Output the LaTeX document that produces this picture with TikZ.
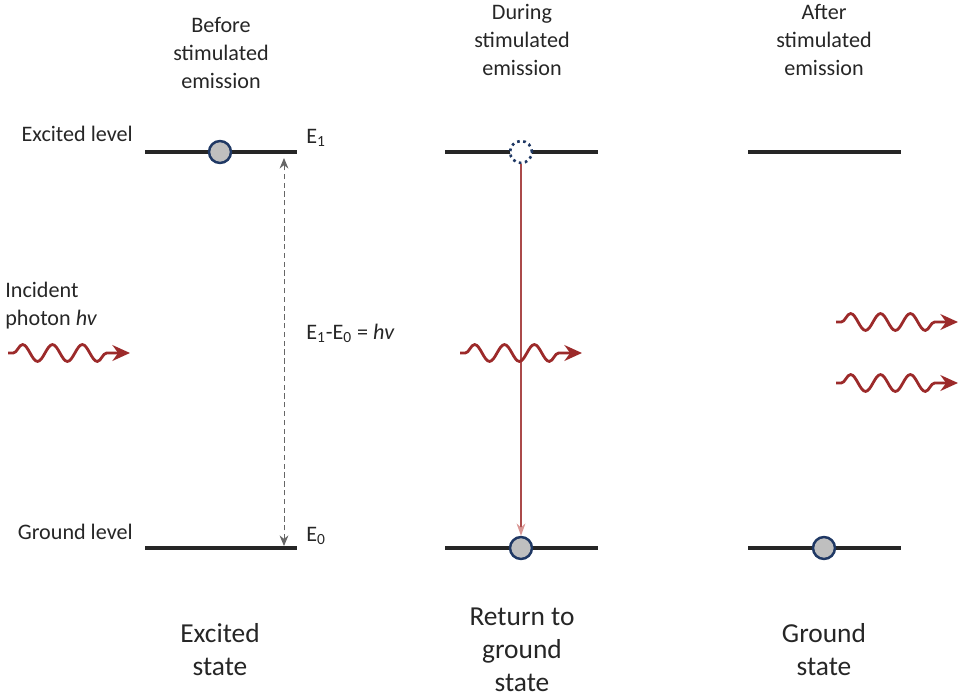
\documentclass[tikz,border=0pt]{standalone}
\usepackage{fontspec}
\setmainfont{Carlito}
\usetikzlibrary{arrows.meta,decorations.pathmorphing}

\definecolor{levelgray}{HTML}{262626}
\definecolor{dotnavy}{HTML}{1F3864}
\definecolor{dotfill}{HTML}{BFBFBF}
\definecolor{photonred}{HTML}{9C2A2A}
\definecolor{droppink}{HTML}{D99694}

\tikzset{
    level/.style={line width=2pt, levelgray},
    electron/.style={circle, draw=dotnavy, fill=dotfill, line width=1.4pt, minimum size=12.5pt, inner sep=0pt},
    hole/.style={circle, draw=dotnavy, fill=white, dotted, line width=1.5pt, minimum size=12.5pt, inner sep=0pt},
    photon/.style={photonred, line width=1.6pt, decorate,
        decoration={snake, amplitude=4.8pt, segment length=17pt, pre length=3pt, post length=11pt},
        -{Stealth[length=10pt, width=9pt]}},
    lbl/.style={text=levelgray, font=\fontsize{12.6}{15.9}\selectfont, inner sep=0pt},
    state/.style={text=levelgray, font=\fontsize{15.6}{18.8}\selectfont, align=center, inner sep=0pt}
}

\begin{document}
\begin{tikzpicture}[x=0.02cm, y=-0.02cm]
    \useasboundingbox (0,0) rectangle (958,697);

    % column headings
    \node[lbl, align=center] (head1) at (221,53) {Before\\stimulated\\emission};
    \node[lbl, align=center] (head2) at (522,40) {During\\stimulated\\emission};
    \node[lbl, align=center] (head3) at (824,40) {After\\stimulated\\emission};

    % energy levels
    \draw[level] (145,152) coordinate (ex1a) -- (297,152) coordinate (ex1b);
    \draw[level] (145,548) coordinate (gr1a) -- (297,548) coordinate (gr1b);
    \draw[level] (445,152) -- (598,152);
    \draw[level] (445,548) -- (598,548);
    \draw[level] (748,152) -- (901,152);
    \draw[level] (748,548) -- (901,548);

    \node[lbl, anchor=east] (exlabel) at (133,134) {Excited level};
    \node[lbl, anchor=east] (grlabel) at (133,532) {Ground level};
    \node[lbl, anchor=west] (e1) at (306,138) {E\textsubscript{1}};
    \node[lbl, anchor=west] (e0) at (306,536) {E\textsubscript{0}};

    % electrons
    \node[electron] (el1) at (220,152) {};
    \node[hole] (hole2) at (521,152) {};
    \node[electron] (el2) at (521,548) {};
    \node[electron] (el3) at (824,548) {};

    % energy gap
    \coordinate (gaptop) at (284,158);
    \coordinate (gapbot) at (284,546);
    \draw[densely dashed, gray!80!black, line width=0.5pt, {Stealth[length=6pt, width=5pt]}-{Stealth[length=6pt, width=5pt]}] (gapbot) -- (gaptop);
    \node[lbl, anchor=west] (gap) at (306,333) {E\textsubscript{1}-E\textsubscript{0} = \textit{hv}};

    % decay
    \draw[photonred!85, line width=0.9pt, -{Stealth[length=7pt, width=5pt, color=droppink]}] (hole2.south) -- (el2.north);

    % photons
    \node[lbl, anchor=west, align=left] (incident) at (5,306) {Incident\\photon \textit{hv}};
    \coordinate (ph1a) at (8,353);   \coordinate (ph1b) at (130,353);
    \coordinate (ph2a) at (460,353); \coordinate (ph2b) at (582,353);
    \coordinate (ph3a) at (836,322); \coordinate (ph3b) at (958,322);
    \coordinate (ph4a) at (836,383); \coordinate (ph4b) at (958,383);
    \draw[photon] (ph1a) -- (ph1b);
    \draw[photon] (ph2a) -- (ph2b);
    \draw[photon] (ph3a) -- (ph3b);
    \draw[photon] (ph4a) -- (ph4b);

    % states
    \node[state] (st1) at (220,650) {Excited\\state};
    \node[state] (st2) at (522,650) {Return to\\ground\\state};
    \node[state] (st3) at (824,650) {Ground\\state};
\end{tikzpicture}
\end{document}
